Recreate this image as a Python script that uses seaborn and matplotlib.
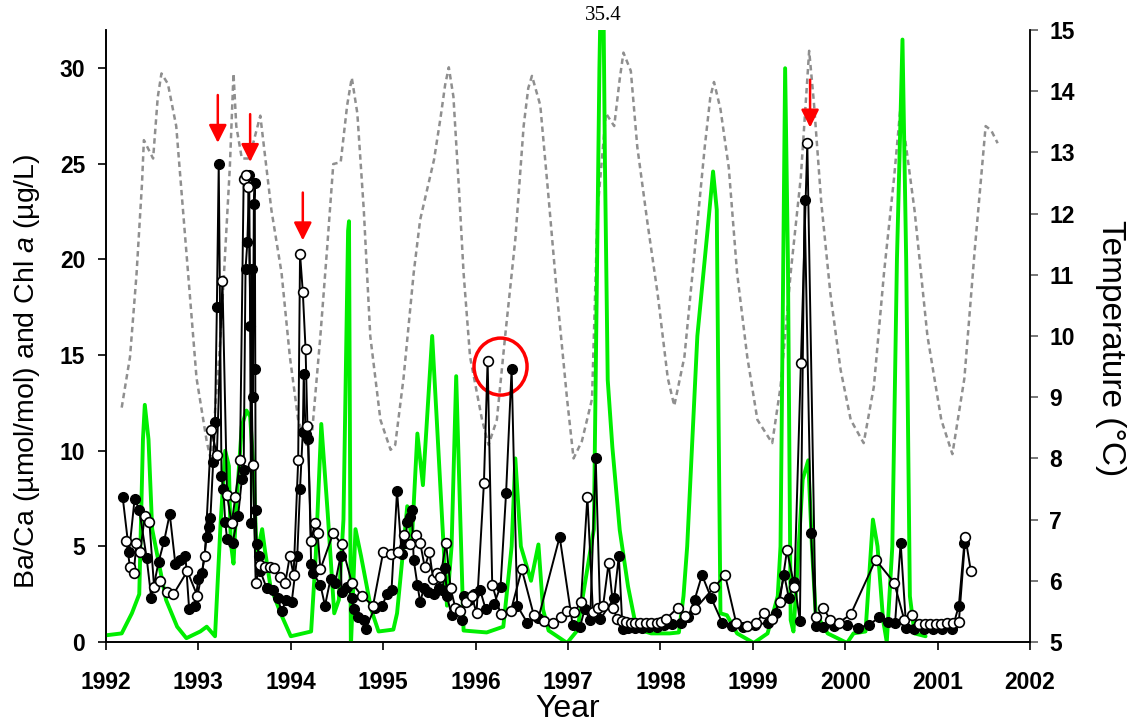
import numpy as np
import pandas as pd
import matplotlib
matplotlib.use("Agg")
from matplotlib import pyplot as plt
from matplotlib.patches import Ellipse
import seaborn as sns

# Ba/Ca, coral 1 (filled circles)
black_year = [1992.18, 1992.25, 1992.31, 1992.36, 1992.44, 1992.49, 1992.57, 1992.63, 1992.69, 1992.75,
              1992.80, 1992.86, 1992.90, 1992.96, 1993.00, 1993.04, 1993.09, 1993.12, 1993.13, 1993.16,
              1993.18, 1993.20, 1993.22, 1993.25, 1993.27, 1993.29, 1993.31, 1993.37, 1993.43, 1993.47,
              1993.49, 1993.51, 1993.53, 1993.55, 1993.56, 1993.57, 1993.58, 1993.59, 1993.60, 1993.61,
              1993.615, 1993.62, 1993.63, 1993.66, 1993.67, 1993.74, 1993.81, 1993.86, 1993.90, 1993.95,
              1994.01, 1994.07, 1994.10, 1994.13, 1994.14, 1994.16, 1994.19, 1994.22, 1994.24, 1994.32,
              1994.37, 1994.43, 1994.48, 1994.54, 1994.55, 1994.61, 1994.66, 1994.68, 1994.73, 1994.79,
              1994.81, 1994.91, 1994.99, 1995.04, 1995.09, 1995.15, 1995.20, 1995.24, 1995.26, 1995.29,
              1995.31, 1995.33, 1995.37, 1995.40, 1995.44, 1995.49, 1995.55, 1995.60, 1995.64, 1995.67,
              1995.69, 1995.74, 1995.80, 1995.85, 1995.87, 1995.93, 1995.98, 1996.05, 1996.11, 1996.20,
              1996.27, 1996.33, 1996.39, 1996.45, 1996.56, 1996.68, 1996.91, 1997.05, 1997.13, 1997.18,
              1997.24, 1997.30, 1997.35, 1997.50, 1997.55, 1997.59, 1997.65, 1997.72, 1997.80, 1997.88,
              1997.96, 1998.04, 1998.13, 1998.22, 1998.30, 1998.37, 1998.45, 1998.55, 1998.67, 1998.78,
              1998.89, 1999.02, 1999.16, 1999.25, 1999.34, 1999.39, 1999.45, 1999.51, 1999.56, 1999.63,
              1999.68, 1999.76, 1999.88, 2000.02, 2000.14, 2000.26, 2000.37, 2000.46, 2000.54, 2000.60,
              2000.66, 2000.75, 2000.85, 2000.95, 2001.05, 2001.16, 2001.23, 2001.29]
black_val = [7.6, 4.7, 7.5, 6.9, 4.4, 2.3, 4.2, 5.3, 6.7, 4.1,
             4.3, 4.5, 1.7, 1.9, 3.3, 3.6, 5.5, 6.0, 6.5, 9.4,
             11.5, 17.5, 25.0, 8.7, 8.0, 6.3, 5.4, 5.2, 6.6, 8.5,
             9.0, 19.5, 20.9, 24.4, 16.5, 6.2, 19.5, 12.8, 22.9, 24.0,
             14.3, 6.9, 5.1, 4.5, 3.7, 2.8, 2.7, 2.3, 1.6, 2.2,
             2.1, 4.5, 8.0, 11.0, 14.0, 10.9, 10.6, 4.1, 3.6, 3.0,
             1.9, 3.3, 3.1, 4.5, 2.6, 2.9, 2.3, 1.7, 1.3, 1.15,
             0.7, 1.8, 1.9, 2.5, 2.7, 7.9, 4.6, 5.2, 6.3, 6.55,
             6.9, 4.3, 3.0, 2.1, 2.8, 2.6, 2.5, 2.8, 2.7, 3.85,
             2.4, 1.4, 1.7, 1.15, 2.4, 2.2, 2.5, 2.7, 1.7, 2.0,
             2.9, 7.8, 14.3, 1.9, 1.0, 1.25, 5.5, 0.9, 0.8, 1.7,
             1.15, 9.6, 1.2, 2.3, 4.5, 0.7, 0.75, 0.75, 0.75, 0.8,
             0.8, 0.9, 0.95, 1.0, 1.3, 2.2, 3.5, 2.3, 1.0, 0.85,
             0.8, 0.9, 1.0, 1.5, 3.5, 2.3, 3.15, 1.1, 23.1, 5.7,
             0.85, 0.8, 0.85, 0.9, 0.75, 0.9, 1.3, 1.05, 1.0, 5.2,
             0.75, 0.7, 0.7, 0.7, 0.7, 0.7, 1.9, 5.2]

# Ba/Ca, coral 2 (open circles)
white_year = [1992.22, 1992.26, 1992.30, 1992.33, 1992.37, 1992.42, 1992.47, 1992.52, 1992.58, 1992.66,
              1992.73, 1992.88, 1992.99, 1993.07, 1993.14, 1993.20, 1993.26, 1993.31, 1993.36, 1993.40,
              1993.45, 1993.49, 1993.52, 1993.54, 1993.59, 1993.62, 1993.67, 1993.72, 1993.78, 1993.82,
              1993.88, 1993.94, 1993.99, 1994.03, 1994.08, 1994.10, 1994.13, 1994.16, 1994.18, 1994.22,
              1994.26, 1994.29, 1994.32, 1994.46, 1994.55, 1994.66, 1994.77, 1994.89, 1995.00, 1995.08,
              1995.16, 1995.23, 1995.29, 1995.35, 1995.40, 1995.45, 1995.50, 1995.54, 1995.58, 1995.62,
              1995.68, 1995.73, 1995.78, 1995.83, 1995.90, 1995.96, 1996.01, 1996.09, 1996.13, 1996.18,
              1996.27, 1996.38, 1996.50, 1996.63, 1996.74, 1996.84, 1996.92, 1996.99, 1997.07, 1997.14,
              1997.21, 1997.27, 1997.33, 1997.38, 1997.44, 1997.49, 1997.53, 1997.58, 1997.63, 1997.68,
              1997.73, 1997.78, 1997.84, 1997.90, 1997.96, 1998.01, 1998.06, 1998.19, 1998.27, 1998.37,
              1998.58, 1998.70, 1998.82, 1998.94, 1999.03, 1999.12, 1999.21, 1999.29, 1999.37, 1999.45,
              1999.52, 1999.59, 1999.68, 1999.76, 1999.84, 1999.93, 2000.06, 2000.33, 2000.53, 2000.64,
              2000.72, 2000.80, 2000.86, 2000.92, 2000.98, 2001.04, 2001.10, 2001.17, 2001.23, 2001.30,
              2001.36]
white_val = [5.3, 3.9, 3.6, 5.2, 4.7, 6.6, 6.25, 2.9, 3.2, 2.6,
             2.5, 3.7, 2.4, 4.5, 11.1, 9.8, 18.9, 7.7, 6.2, 7.6,
             9.5, 24.2, 24.4, 23.8, 9.25, 3.1, 4.0, 3.9, 3.9, 3.85,
             3.4, 3.1, 4.5, 3.5, 9.5, 20.3, 18.3, 15.3, 11.3, 5.3,
             6.2, 5.7, 3.8, 5.7, 5.1, 3.1, 2.4, 1.9, 4.7, 4.6,
             4.7, 5.6, 5.1, 5.6, 5.2, 3.9, 4.7, 3.3, 3.6, 3.4,
             5.2, 2.8, 1.8, 1.6, 2.1, 2.4, 1.5, 8.3, 14.7, 3.0,
             1.45, 1.6, 3.8, 1.4, 1.1, 1.0, 1.3, 1.6, 1.55, 2.1,
             7.6, 1.55, 1.8, 1.9, 4.15, 1.8, 1.2, 1.1, 1.05, 1.0,
             1.0, 1.0, 1.0, 1.0, 1.0, 1.05, 1.2, 1.8, 1.35, 1.7,
             2.85, 3.5, 1.0, 0.85, 1.0, 1.5, 1.2, 2.1, 4.8, 2.9,
             14.6, 26.1, 1.3, 1.8, 1.15, 1.0, 1.45, 4.3, 3.1, 1.15,
             1.4, 0.95, 0.95, 0.95, 0.95, 0.95, 1.0, 1.0, 1.05, 5.5,
             3.7]

# Chl a (green)
chl_year = [1992.00, 1992.17, 1992.28, 1992.36, 1992.40, 1992.42, 1992.46, 1992.50, 1992.65, 1992.77,
            1992.87, 1993.02, 1993.09, 1993.18, 1993.24, 1993.29, 1993.33, 1993.35, 1993.38, 1993.41,
            1993.47, 1993.52, 1993.56, 1993.60, 1993.63, 1993.66, 1993.69, 1993.72, 1993.78, 1993.89,
            1994.00, 1994.22, 1994.27, 1994.33, 1994.40, 1994.47, 1994.52, 1994.57, 1994.62, 1994.63,
            1994.65, 1994.70, 1994.76, 1994.87, 1994.95, 1995.11, 1995.15, 1995.22, 1995.26, 1995.31,
            1995.37, 1995.43, 1995.53, 1995.58, 1995.64, 1995.69, 1995.74, 1995.79, 1995.83, 1995.87,
            1996.12, 1996.30, 1996.39, 1996.43, 1996.49, 1996.60, 1996.68, 1996.73, 1996.79, 1996.99,
            1997.10, 1997.28, 1997.34, 1997.36, 1997.38, 1997.40, 1997.43, 1997.48, 1997.56, 1997.65,
            1997.72, 1997.80, 1997.90, 1998.10, 1998.20, 1998.25, 1998.29, 1998.40, 1998.51, 1998.57,
            1998.61, 1998.63, 1998.65, 1998.72, 1998.83, 1999.01, 1999.16, 1999.27, 1999.30, 1999.33,
            1999.35, 1999.38, 1999.41, 1999.44, 1999.48, 1999.54, 1999.60, 1999.64, 1999.68, 1999.81,
            2000.02, 2000.09, 2000.22, 2000.30, 2000.35, 2000.41, 2000.45, 2000.51, 2000.56, 2000.62,
            2000.66, 2000.70, 2000.75, 2000.87]
chl_val = [0.35, 0.45, 1.5, 2.5, 10.6, 12.4, 10.6, 5.9, 2.2, 0.8,
           0.2, 0.55, 0.8, 0.3, 6.2, 10.0, 9.2, 5.2, 4.1, 7.1,
           11.3, 12.1, 11.8, 8.8, 4.5, 5.2, 5.9, 4.8, 2.9, 1.5,
           0.3, 0.55, 4.5, 11.4, 6.7, 1.5, 2.2, 6.4, 21.5, 22.0,
           -0.3, 5.9, 4.5, 1.7, 0.55, 0.65, 1.5, 5.0, 7.1, 5.3,
           10.9, 8.2, 16.0, 11.6, 6.2, 1.9, 5.0, 13.9, 7.2, 0.6,
           0.5, 0.8, 5.0, 9.6, 5.0, 3.2, 5.1, 1.7, 0.6, -0.05,
           0.6, 5.9, 30.0, 35.4, 35.4, 25.0, 13.7, 10.2, 5.85, 2.9,
           1.2, 0.6, 0.45, 0.45, 0.5, 2.4, 5.0, 16.0, 21.5, 24.6,
           22.6, 11.6, 1.5, 1.4, 0.45, -0.05, 0.45, 2.4, 5.0, 20.0,
           30.0, 20.0, 1.15, 0.55, 3.6, 8.5, 9.5, 5.0, 1.5, 0.45,
           -0.05, 0.45, 0.55, 6.4, 5.0, 1.15, 0.0, 5.0, 20.0, 31.5,
           20.0, 2.4, 0.45, 0.3]

# Temperature (right axis)
temp_year = [1992.17, 1992.26, 1992.33, 1992.39, 1992.41, 1992.46, 1992.51, 1992.56, 1992.60, 1992.67, 1992.76,
             1992.87, 1992.98, 1993.09, 1993.14, 1993.24, 1993.34, 1993.38, 1993.41, 1993.47, 1993.55,
             1993.67, 1993.79, 1993.90, 1993.99, 1994.08, 1994.17, 1994.23, 1994.32, 1994.39, 1994.46,
             1994.54, 1994.61, 1994.66, 1994.72, 1994.79, 1994.86, 1994.97, 1995.08, 1995.13, 1995.22,
             1995.33, 1995.40, 1995.55, 1995.62, 1995.67, 1995.71, 1995.76, 1995.82, 1995.87, 1995.94, 1996.07,
             1996.14, 1996.23, 1996.32, 1996.43, 1996.52, 1996.57, 1996.61, 1996.70, 1996.79, 1996.88, 1996.99,
             1997.06, 1997.15, 1997.26, 1997.32, 1997.41, 1997.50, 1997.56, 1997.60, 1997.68, 1997.75, 1997.86,
             1997.97, 1998.08, 1998.15, 1998.26, 1998.37, 1998.48, 1998.54, 1998.58, 1998.65, 1998.74, 1998.83,
             1998.94, 1999.05, 1999.21, 1999.30, 1999.41, 1999.52, 1999.61, 1999.66, 1999.74, 1999.84,
             1999.95, 2000.06, 2000.20, 2000.31, 2000.42, 2000.53, 2000.60, 2000.75, 2000.89, 2001.04,
             2001.16, 2001.29, 2001.40, 2001.52, 2001.58, 2001.65]
temp_val = [8.83, 9.66, 11.0, 12.5, 13.2, 13.05, 12.9, 13.9, 14.29, 14.12, 13.43,
            11.37, 9.31, 8.28, 7.94, 10.0, 12.75, 14.29, 13.43, 12.9, 12.9,
            13.6, 12.06, 11.03, 9.66, 8.63, 8.22, 8.42, 10.0, 11.37, 12.81,
            12.84, 13.77, 14.22, 13.64, 12.06, 10.0, 8.63, 8.14, 8.22, 9.31,
            11.03, 11.9, 12.88, 13.56, 14.1, 14.39, 13.91, 12.4, 11.03, 9.66, 8.63,
            8.22, 8.63, 10.0, 11.58, 13.43, 14.05, 14.25, 13.77, 12.26, 10.69, 8.97,
            8.0, 8.28, 8.97, 12.06, 13.64, 13.43, 14.2, 14.63, 14.33, 13.09, 11.85,
            10.69, 9.31, 8.86, 9.66, 11.37, 13.09, 13.9, 14.15, 13.71, 12.75, 11.03,
            9.66, 8.63, 8.25, 9.17, 11.03, 12.6, 14.66, 13.84, 12.2, 10.69,
            9.45, 8.63, 8.25, 9.17, 11.03, 12.6, 13.77, 12.06, 10.0, 8.63,
            8.07, 9.31, 11.37, 13.43, 13.36, 13.15]

arrow_year = [1993.21, 1993.56, 1994.13, 1999.62]
arrow_top = [28.6, 27.6, 23.5, 29.4]
arrow_tip = [26.1, 25.1, 21.0, 26.9]

sns.set_style("ticks")
plt.rcParams['font.family'] = ['Liberation Sans', 'DejaVu Sans']
plt.rcParams['mathtext.fontset'] = 'custom'
plt.rcParams['mathtext.rm'] = 'Liberation Sans'
plt.rcParams['mathtext.it'] = 'Liberation Sans:italic'
plt.rcParams['text.color'] = 'black'
plt.rcParams['axes.labelcolor'] = 'black'
plt.rcParams['xtick.color'] = 'black'
plt.rcParams['ytick.color'] = 'black'
plt.rcParams['axes.edgecolor'] = 'black'

black_df = pd.DataFrame({'year': black_year, 'val': black_val})
white_df = pd.DataFrame({'year': white_year, 'val': white_val})
chl_df = pd.DataFrame({'year': chl_year, 'val': chl_val})
temp_df = pd.DataFrame({'year': temp_year, 'val': temp_val})

fig = plt.figure(figsize=(11.3, 7.26), dpi=100)
ax = fig.add_axes([0.0938, 0.1157, 0.8177, 0.843])
ax2 = ax.twinx()

sns.lineplot(data=temp_df, x='year', y='val', ax=ax2, sort=False, estimator=None,
             color='#8f8f8f', lw=1.8, linestyle=(0, (2.2, 1.6)))
sns.lineplot(data=chl_df, x='year', y='val', ax=ax, sort=False, estimator=None,
             color='#00ee00', lw=2.8)
sns.lineplot(data=black_df, x='year', y='val', ax=ax, sort=False, estimator=None,
             color='black', lw=1.4, marker='o', markersize=7, markerfacecolor='black',
             markeredgecolor='black', markeredgewidth=1)
sns.lineplot(data=white_df, x='year', y='val', ax=ax, sort=False, estimator=None,
             color='black', lw=1.4, marker='o', markersize=7, markerfacecolor='white',
             markeredgecolor='black', markeredgewidth=1.2)

ax.set_zorder(ax2.get_zorder() + 1)
ax.patch.set_visible(False)

for x, top, tip in zip(arrow_year, arrow_top, arrow_tip):
    ax.annotate('', xy=(x, tip), xytext=(x, top),
                arrowprops=dict(arrowstyle='-|>,head_length=0.9,head_width=0.45',
                                color='red', lw=1.8, mutation_scale=12, shrinkA=0, shrinkB=0))
ax.add_patch(Ellipse((1996.27, 14.4), width=0.574, height=2.98, fill=False,
                     edgecolor='red', lw=2.5))
ax.text(1997.385, 32.75, '35.4', ha='center', va='center', fontsize=15,
        family='Liberation Serif', clip_on=False)

ax.set_xlim(1992, 2002)
ax.set_ylim(0, 32)
ax2.set_ylim(5, 15)
ax.set_xticks(range(1992, 2003))
ax.set_yticks(range(0, 31, 5))
ax2.set_yticks(range(5, 16))
ax.tick_params(axis='x', labelsize=16.5, length=6, width=1.2, pad=15)
ax.tick_params(axis='y', labelsize=16.5, length=6, width=1.2, pad=9)
ax2.tick_params(axis='y', labelsize=16.5, length=6, width=1.2, pad=8, color='#606060')
for lbl in ax.get_xticklabels() + ax.get_yticklabels() + ax2.get_yticklabels():
    lbl.set_fontweight('bold')

ax.set_xlabel('Year', fontsize=23, va='center')
ax.xaxis.set_label_coords(0.5, -0.11)
ax.set_ylabel('Ba/Ca (µmol/mol) and Chl $\\it{a}$ (µg/L)', fontsize=20.5, va='center')
ax.yaxis.set_label_coords(-0.0855, 0.443)
ax2.set_ylabel('Temperature (°C)', fontsize=24, rotation=270, va='center')
ax2.yaxis.set_label_coords(1.0866, 0.48)

for a in (ax, ax2):
    a.spines['top'].set_visible(False)
    for s in ('left', 'right', 'bottom'):
        a.spines[s].set_linewidth(1.2)
ax2.spines['right'].set_color('#606060')

fig.savefig('out.png', dpi=100)
